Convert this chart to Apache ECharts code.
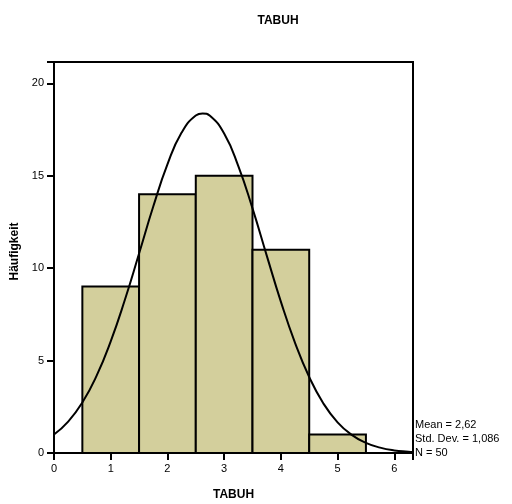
<!DOCTYPE html>
<html>
<head>
<meta charset="utf-8">
<script src="https://cdn.jsdelivr.net/npm/echarts@6/dist/echarts.min.js"></script>
<style>html,body{margin:0;padding:0;background:#fff}#main{width:512px;height:504px}</style>
</head>
<body>
<div id="main"></div>
<script>
var dom = document.getElementById("main");
var myChart = echarts.init(dom);

// histogram bins (center) and counts
var binCenters = [1, 2, 3, 4, 5];
var binCounts = [9, 14, 15, 11, 1];
// normal curve
var curveX = [0, 0.25, 0.5, 0.75, 1, 1.25, 1.5, 1.75, 2, 2.25, 2.5, 2.62, 2.75, 3, 3.25, 3.5, 3.75, 4, 4.25, 4.5, 4.75, 5, 5.25, 5.5, 5.75, 6, 6.25, 6.33];
var curveY = [1.0, 1.7, 2.73, 4.17, 6.04, 8.29, 10.79, 13.33, 15.61, 17.33, 18.26, 18.37, 18.24, 17.28, 15.52, 13.23, 10.69, 8.19, 5.96, 4.11, 2.68, 1.66, 0.98, 0.55, 0.29, 0.14, 0.07, 0.05];
var statLines = ['Mean = 2,62', 'Std. Dev. = 1,086', 'N = 50'];

var barData = [];
for (var i = 0; i < binCenters.length; i++) {
	barData.push([binCenters[i], binCounts[i]]);
}
var lineData = [];
for (var j = 0; j < curveX.length; j++) {
	lineData.push([curveX[j], curveY[j]]);
}

var font = 'Liberation Sans, Arial, sans-serif';

option = {
	backgroundColor: '#fff',
	animation: false,
	title: {
		text: 'TABUH',
		left: 273,
		top: 10,
		textAlign: 'center',
		textStyle: { fontFamily: font, fontSize: 12, fontWeight: 'bold', color: '#000' }
	},
	grid: {
		left: 54, top: 62, right: 99, bottom: 51,
		outerBoundsMode: 'none',
		containLabel: false,
		show: true, borderColor: '#000', borderWidth: 2
	},
	xAxis: {
		type: 'value',
		min: 0, max: 6.33, interval: 1,
		name: 'TABUH',
		nameLocation: 'middle',
		nameGap: 36,
		nameTextStyle: { fontFamily: font, fontSize: 12, fontWeight: 'bold', color: '#000' },
		axisLine: { show: true, lineStyle: { color: '#000', width: 2 } },
		axisTick: { show: true, length: 7, lineStyle: { color: '#000', width: 2 } },
		axisLabel: {
			fontFamily: font, fontSize: 11, color: '#000', margin: 10,
			formatter: function (v) { return v > 6.1 ? '' : String(v); }
		},
		splitLine: { show: false }
	},
	yAxis: {
		type: 'value',
		min: 0, max: 21.15, interval: 5,
		name: 'Häufigkeit',
		nameLocation: 'middle',
		nameGap: 20,
		nameRotate: 90,
		nameTextStyle: { fontFamily: font, fontSize: 12, fontWeight: 'bold', color: '#000', padding: [0, 0, 0, 12] },
		axisLine: { show: true, lineStyle: { color: '#000', width: 2 } },
		axisTick: { show: true, length: 7, lineStyle: { color: '#000', width: 2 } },
		axisLabel: {
			fontFamily: font, fontSize: 11, color: '#000', margin: 10,
			formatter: function (v) { return v > 20.5 ? '' : String(v); }
		},
		splitLine: { show: false }
	},
	graphic: [{
		type: 'text',
		left: 415,
		top: 418,
		style: {
			text: statLines.join('\n'),
			font: '11px ' + font,
			fill: '#000',
			lineHeight: 14
		}
	}],
	series: [{
		type: 'custom',
		data: barData,
		renderItem: function (params, api) {
			var c = api.value(0);
			var v = api.value(1);
			var p0 = api.coord([c - 0.5, v]);
			var p1 = api.coord([c + 0.5, 0]);
			return {
				type: 'rect',
				shape: { x: p0[0], y: p0[1], width: p1[0] - p0[0], height: p1[1] - p0[1] },
				style: { fill: '#d3cf9c', stroke: '#000', lineWidth: 2 }
			};
		}
	}, {
		type: 'line',
		data: lineData,
		smooth: true,
		showSymbol: false,
		lineStyle: { color: '#000', width: 2 },
		z: 5
	}]
};
if (option && typeof option === "object") {
	myChart.setOption(option, true);
}
</script>
</body>
</html>
